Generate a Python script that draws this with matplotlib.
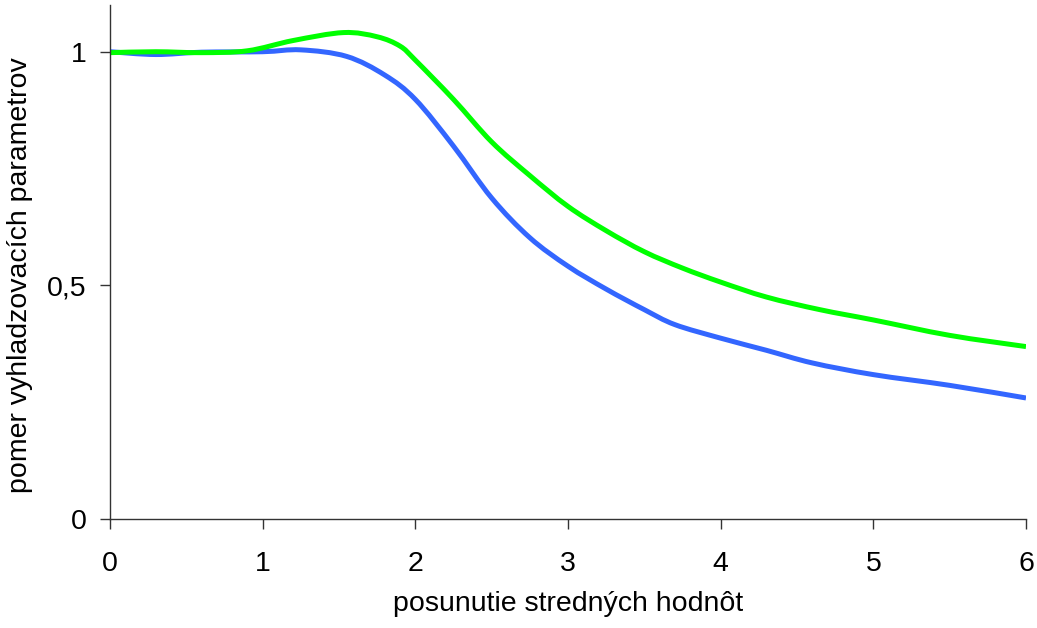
import matplotlib

matplotlib.use("Agg")
import matplotlib.pyplot as plt
import numpy as np
from matplotlib.patches import PathPatch
from matplotlib.path import Path
from matplotlib.ticker import FuncFormatter

plt.rcParams["font.family"] = ["Liberation Sans", "DejaVu Sans"]

# values
shift_b = [0.0, 0.3, 0.6, 1.0, 1.25, 1.55, 1.8, 2.0, 2.25, 2.5, 2.75, 3.0,
           3.25, 3.5, 3.7, 4.0, 4.3, 4.6, 5.0, 5.5, 6.0]
ratio_blue = [1.0, 0.994, 0.999, 1.0, 1.004, 0.99, 0.95, 0.898, 0.798, 0.687,
              0.602, 0.541, 0.492, 0.448, 0.416, 0.387, 0.361, 0.334, 0.309,
              0.286, 0.259]

shift_g = [0.0, 0.3, 0.6, 0.9, 1.2, 1.53, 1.75, 1.9, 2.0, 2.25, 2.5, 2.75,
           3.0, 3.25, 3.5, 3.75, 4.0, 4.3, 4.65, 5.0, 5.5, 6.0]
ratio_green = [0.998, 1.0, 0.998, 1.002, 1.024, 1.041, 1.032, 1.012, 0.982,
               0.898, 0.807, 0.735, 0.669, 0.617, 0.572, 0.537, 0.507, 0.475,
               0.448, 0.426, 0.393, 0.369]

x_ticks = [0, 1, 2, 3, 4, 5, 6]
y_ticks = [0, 0.5, 1]


def smooth_path(xs, ys):
    # Excel-style "smoothed line": cubic Bezier segments through every point
    p = np.column_stack([xs, ys]).astype(float)
    verts = [p[0]]
    codes = [Path.MOVETO]
    for i in range(len(p) - 1):
        p0 = p[max(i - 1, 0)]
        p1, p2 = p[i], p[i + 1]
        p3 = p[min(i + 2, len(p) - 1)]
        verts += [p1 + (p2 - p0) / 6, p2 - (p3 - p1) / 6, p2]
        codes += [Path.CURVE4] * 3
    return Path(verts, codes)


fig = plt.figure(figsize=(10.37, 6.28), dpi=100)
ax = fig.add_axes([110 / 1037, 1 - 519 / 628, 916 / 1037, 514 / 628])

for xs, ys, col in [(shift_b, ratio_blue, "#3366ff"), (shift_g, ratio_green, "#00ff00")]:
    ax.add_patch(PathPatch(smooth_path(xs, ys), facecolor="none", edgecolor=col,
                           lw=3.6, capstyle="butt", joinstyle="round"))

ax.set_xlim(0, 6)
ax.set_ylim(0, 1.1)
ax.set_xticks(x_ticks)
ax.set_yticks(y_ticks)
ax.yaxis.set_major_formatter(FuncFormatter(lambda v, _: f"{v:g}".replace(".", ",")))

for s in ["top", "right"]:
    ax.spines[s].set_visible(False)
for s in ["left", "bottom"]:
    ax.spines[s].set_color("#333333")
    ax.spines[s].set_linewidth(1.0)

ax.tick_params(axis="x", direction="out", length=7, width=1, color="#333333",
               labelsize=20.5, pad=16)
ax.tick_params(axis="y", direction="out", length=7, width=1, color="#333333",
               labelsize=20.5, pad=10)
ax.set_xlabel("posunutie stredných hodnôt", fontsize=20.5, labelpad=10)
ax.set_ylabel("pomer vyhladzovacích parametrov", fontsize=20.5)
ax.yaxis.set_label_coords(-0.084, 0.475)

fig.savefig("out.png", dpi=100)
